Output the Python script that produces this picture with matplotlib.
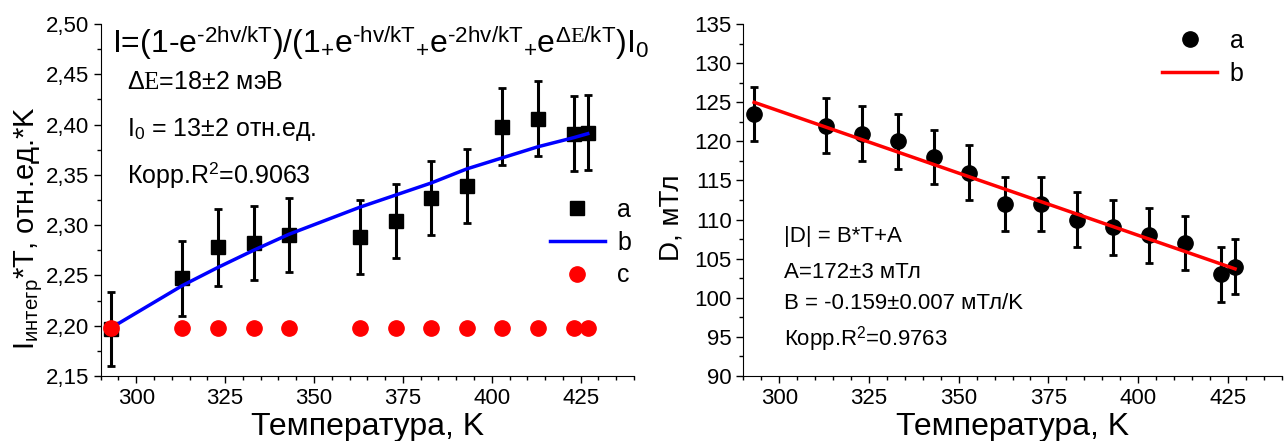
import matplotlib
matplotlib.use('Agg')
from matplotlib import pyplot as plt
from matplotlib.ticker import MultipleLocator, FuncFormatter

plt.rcParams['font.family'] = ['Liberation Sans', 'DejaVu Sans']
plt.rcParams['mathtext.fontset'] = 'custom'
plt.rcParams['mathtext.rm'] = 'Liberation Sans'
plt.rcParams['mathtext.it'] = 'Liberation Serif'
plt.rcParams['mathtext.sf'] = 'Liberation Sans'

# left panel: integrated intensity * T
T_left = [293, 313, 323, 333, 343, 363, 373, 383, 393, 403, 413, 423, 427]
I_a = [2.197, 2.247, 2.278, 2.282, 2.290, 2.288, 2.304, 2.327, 2.339, 2.398, 2.406, 2.391, 2.392]
I_err = [0.037, 0.037, 0.038, 0.037, 0.037, 0.037, 0.037, 0.037, 0.037, 0.038, 0.037, 0.037, 0.037]
I_fit = [2.198, 2.240, 2.258, 2.275, 2.291, 2.318, 2.330, 2.342, 2.356, 2.367, 2.378, 2.387, 2.391]
I_c = [2.198] * 13

# right panel: D
T_right = [293, 313, 323, 333, 343, 353, 363, 373, 383, 393, 403, 413, 423, 427]
D_a = [123.5, 122.0, 121.0, 120.0, 118.0, 116.0, 112.0, 112.0, 110.0, 109.0, 108.0, 107.0, 103.0, 104.0]
D_err = [3.5] * 14
T_fit = [293, 427]
D_fit = [125.0, 103.7]

fig = plt.figure(figsize=(12.87, 4.41), dpi=100)
ax1 = fig.add_axes([0.0782, 0.1474, 0.4144, 0.798])
ax2 = fig.add_axes([0.5776, 0.1474, 0.4183, 0.798])

for ax in (ax1, ax2):
    ax.spines['top'].set_visible(False)
    ax.spines['right'].set_visible(False)
    ax.set_xlim(290, 440)
    ax.xaxis.set_major_locator(MultipleLocator(25))
    ax.xaxis.set_minor_locator(MultipleLocator(5))
    ax.tick_params(which='major', length=5, width=1, labelsize=16)
    ax.tick_params(which='minor', length=3, width=1)
    ax.set_xlabel('Температура, K', fontsize=23, labelpad=2)

# ---- left
ax1.errorbar(T_left, I_a, yerr=I_err, fmt='none', ecolor='black',
             elinewidth=2.2, capsize=3, capthick=2, zorder=3)
ax1.plot(T_left, I_a, 's', color='black', ms=10, label='a', zorder=3)
ax1.plot(T_left, I_fit, color='blue', lw=2.5, label='b', zorder=4)
ax1.plot(T_left, I_c, 'o', color='red', ms=11, label='c', zorder=5)
ax1.set_ylim(2.15, 2.50)
ax1.yaxis.set_major_locator(MultipleLocator(0.05))
ax1.yaxis.set_minor_locator(MultipleLocator(0.025))
ax1.yaxis.set_major_formatter(FuncFormatter(lambda v, p: f'{v:.2f}'.replace('.', ',')))
ax1.set_ylabel(r'I$_{\mathrm{интегр}}$*T, отн.ед.*K', fontsize=21)
ax1.yaxis.set_label_coords(-0.106, 0.42)

ax1.legend(loc='upper left', bbox_to_anchor=(0.80, 0.57), frameon=False,
           fontsize=18, handlelength=2.2, handletextpad=0.5, labelspacing=0.35)

ax1.text(0.022, 0.998, r'I=(1-e$^{\text{-2hv/kT}}$)/(1$_{+}$e$^{\text{-hv/kT}}$$_{+}$e$^{\text{-2hv/kT}}$$_{+}$e$^{\mathit{\Delta E}\mathrm{/kT}}$)I$_{0}$',
         transform=ax1.transAxes, fontsize=23, va='top', ha='left')
ax1.text(0.05, 0.835, r'$\mathit{\Delta E}$=18±2 мэВ', transform=ax1.transAxes, fontsize=18, va='center')
ax1.text(0.05, 0.70, r'I$_{0}$ = 13±2 отн.ед.', transform=ax1.transAxes, fontsize=18, va='center')
ax1.text(0.05, 0.57, r'Корр.R$^{2}$=0.9063', transform=ax1.transAxes, fontsize=18, va='center')

# ---- right
ax2.errorbar(T_right, D_a, yerr=D_err, fmt='none', ecolor='black',
             elinewidth=2.2, capsize=3, capthick=2, zorder=3)
ax2.plot(T_right, D_a, 'o', color='black', ms=11, label='a', zorder=3)
ax2.plot(T_fit, D_fit, color='red', lw=2.5, label='b', zorder=4)
ax2.set_ylim(90, 135)
ax2.yaxis.set_major_locator(MultipleLocator(5))
ax2.yaxis.set_minor_locator(MultipleLocator(2.5))
ax2.set_ylabel('D, мТл', fontsize=20)
ax2.yaxis.set_label_coords(-0.11, 0.45)
ax2.legend(loc='upper left', bbox_to_anchor=(0.736, 1.05), frameon=False,
           fontsize=18, handlelength=2.2, handletextpad=0.5, labelspacing=0.35)

ax2.text(0.075, 0.395, '|D| = B*T+A', transform=ax2.transAxes, fontsize=16, va='center')
ax2.text(0.075, 0.295, 'A=172±3 мТл', transform=ax2.transAxes, fontsize=16, va='center')
ax2.text(0.075, 0.205, 'B = -0.159±0.007 мТл/K', transform=ax2.transAxes, fontsize=16, va='center')
ax2.text(0.075, 0.105, r'Корр.R$^{2}$=0.9763', transform=ax2.transAxes, fontsize=16, va='center')

fig.savefig('out.png', dpi=100)
